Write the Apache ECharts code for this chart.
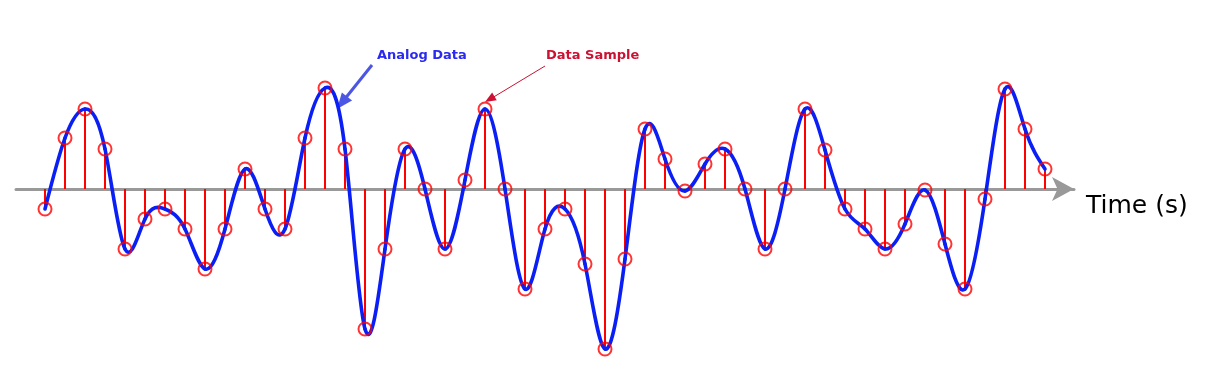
<!DOCTYPE html>
<html>
<head>
<meta charset="utf-8">
<script src="https://cdn.jsdelivr.net/npm/echarts@6/dist/echarts.min.js"></script>
<style>html,body{margin:0;padding:0;background:#fff;}#c{width:1216px;height:380px;}</style>
</head>
<body>
<div id="c"></div>
<script>
// sample index (time) and sampled amplitude values
var sampleTimes = [];
for (var i = 0; i <= 50; i++) sampleTimes.push(i);
var sampleValues = [-1, 2.55, 4, 2, -3, -1.5, -1, -2, -4, -2,
  1, -1, -2, 2.55, 5.05, 2, -7, -3, 2, 0,
  -3, 0.45, 4, 0, -5, -2, -1, -3.75, -8, -3.5,
  3, 1.5, -0.1, 1.25, 2, 0, -3, 0, 4, 1.95,
  -1, -2, -3, -1.75, -0.05, -2.75, -5, -0.5, 5, 3,
  1];
var axisLabel = 'Time (s)';
var labelAnalog = 'Analog Data';
var labelSample = 'Data Sample';

var points = sampleTimes.map(function (t, i) { return [t, sampleValues[i]]; });

// slopes of a natural cubic spline through the samples (used only to draw the smooth curve)
function splineSlopes(xs, ys) {
  var n = xs.length, h = xs[1] - xs[0];
  var a = [], b = [], c = [], d = [];
  for (var i = 0; i < n; i++) {
    if (i === 0) { a[i] = 0; b[i] = 2; c[i] = 1; d[i] = 3 * (ys[1] - ys[0]) / h; }
    else if (i === n - 1) { a[i] = 1; b[i] = 2; c[i] = 0; d[i] = 3 * (ys[n - 1] - ys[n - 2]) / h; }
    else { a[i] = 1; b[i] = 4; c[i] = 1; d[i] = 3 * (ys[i + 1] - ys[i - 1]) / h; }
  }
  for (var k = 1; k < n; k++) {
    var w = a[k] / b[k - 1];
    b[k] -= w * c[k - 1]; d[k] -= w * d[k - 1];
  }
  var m = new Array(n);
  m[n - 1] = d[n - 1] / b[n - 1];
  for (var j = n - 2; j >= 0; j--) m[j] = (d[j] - c[j] * m[j + 1]) / b[j];
  return m;
}
var slopes = splineSlopes(sampleTimes, sampleValues);

function arrowHead(x1, y1, x2, y2, len, wid) {
  var dx = x2 - x1, dy = y2 - y1, d = Math.sqrt(dx * dx + dy * dy);
  var ux = dx / d, uy = dy / d;
  var bx = x2 - ux * len, by = y2 - uy * len;
  return [[x2, y2], [bx - uy * wid / 2, by + ux * wid / 2], [bx + uy * wid / 2, by - ux * wid / 2]];
}

var chart = echarts.init(document.getElementById('c'), null, {renderer: 'canvas'});
chart.setOption({
  animation: false,
  backgroundColor: '#ffffff',
  grid: {left: 16, width: 1058, top: 29, height: 320},
  xAxis: {
    type: 'value', min: -1.45, max: 51.45,
    axisLine: {onZero: true, lineStyle: {color: '#999999', width: 3}, symbol: ['none', 'arrow'], symbolSize: [18, 22]},
    axisTick: {show: false}, axisLabel: {show: false}, splitLine: {show: false}
  },
  yAxis: {type: 'value', min: -8, max: 8, show: false, splitLine: {show: false}},
  graphic: [
    {type: 'text', left: 1086, top: 194, style: {text: axisLabel, font: '25px "DejaVu Sans"', fill: '#000'}},
    {type: 'text', left: 377, top: 49, style: {text: labelAnalog, font: 'bold 13px "DejaVu Sans"', fill: '#2a2af0'}},
    {type: 'text', left: 546, top: 49, style: {text: labelSample, font: 'bold 13px "DejaVu Sans"', fill: '#cc1133'}},
    {type: 'line', shape: {x1: 372, y1: 65, x2: 344, y2: 100}, style: {stroke: '#4c55e4', lineWidth: 3}},
    {type: 'polygon', shape: {points: arrowHead(372, 65, 337, 109, 16, 13)}, style: {fill: '#4c55e4'}},
    {type: 'line', shape: {x1: 545, y1: 66, x2: 492, y2: 98}, style: {stroke: '#cc1133', lineWidth: 1}},
    {type: 'polygon', shape: {points: arrowHead(545, 66, 485, 102, 11, 9)}, style: {fill: '#cc1133'}}
  ],
  series: [
    {
      type: 'custom', z: 1,
      data: points,
      renderItem: function (params, api) {
        var p0 = api.coord([api.value(0), 0]);
        var p1 = api.coord([api.value(0), api.value(1)]);
        return {type: 'line', shape: {x1: p0[0], y1: p0[1], x2: p1[0], y2: p1[1]},
          style: {stroke: '#ff0000', lineWidth: 2}};
      }
    },
    {
      type: 'custom', z: 2,
      data: points,
      renderItem: function (params, api) {
        var i = params.dataIndex;
        if (i >= points.length - 1) return null;
        var x0 = points[i][0], y0 = points[i][1], x1 = points[i + 1][0], y1 = points[i + 1][1];
        var h = x1 - x0;
        var A = api.coord([x0, y0]);
        var B = api.coord([x1, y1]);
        var C1 = api.coord([x0 + h / 3, y0 + slopes[i] * h / 3]);
        var C2 = api.coord([x1 - h / 3, y1 - slopes[i + 1] * h / 3]);
        return {type: 'bezierCurve',
          shape: {x1: A[0], y1: A[1], x2: B[0], y2: B[1], cpx1: C1[0], cpy1: C1[1], cpx2: C2[0], cpy2: C2[1]},
          style: {stroke: '#0a1ff5', lineWidth: 3.6, fill: null, lineCap: 'round'}};
      }
    },
    {
      type: 'scatter', z: 3, data: points, symbol: 'circle', symbolSize: 13,
      itemStyle: {color: 'rgba(0,0,0,0)', borderColor: '#ff0000', borderWidth: 2}
    }
  ]
});
</script>
</body>
</html>
